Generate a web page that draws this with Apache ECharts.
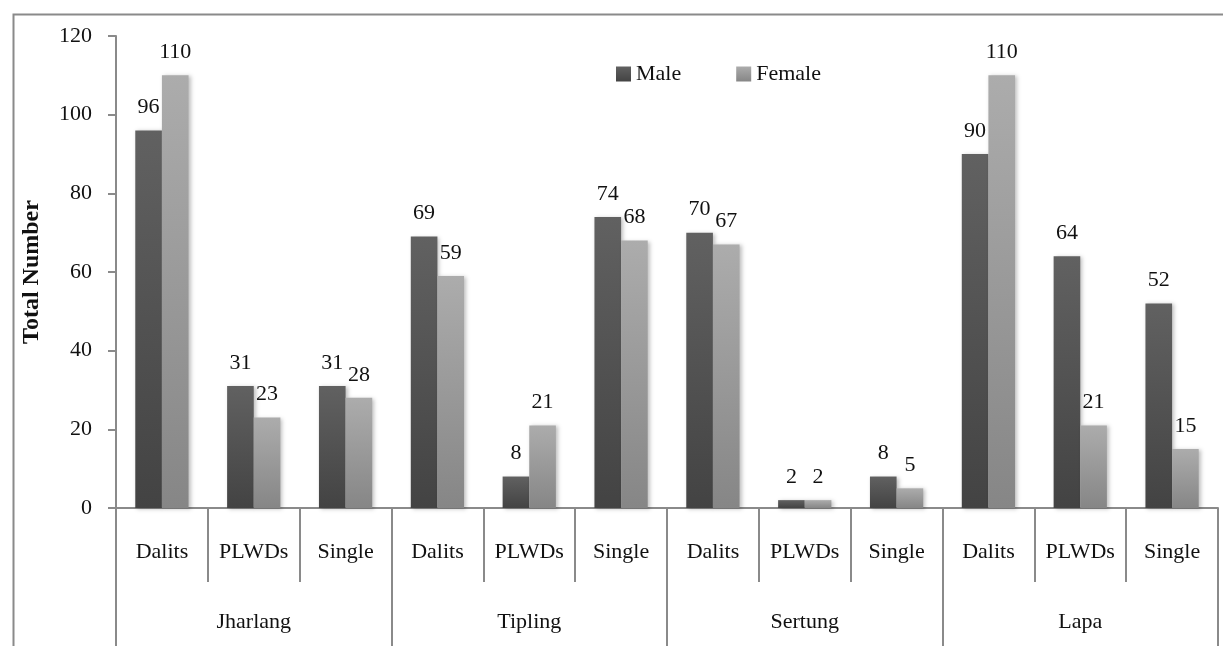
<!DOCTYPE html>
<html>
<head>
<meta charset="utf-8">
<style>
html,body{margin:0;padding:0;background:#fff;}
#chart{width:1223px;height:646px;}
</style>
<script src="https://cdn.jsdelivr.net/npm/echarts@6/dist/echarts.min.js"></script>
</head>
<body>
<div id="chart"></div>
<script>
var subCategories = ['Dalits','PLWDs','Single','Dalits','PLWDs','Single','Dalits','PLWDs','Single','Dalits','PLWDs','Single'];
var groups = ['Jharlang','Tipling','Sertung','Lapa'];
var maleValues = [96,31,31,69,8,74,70,2,8,90,64,52];
var femaleValues = [110,23,28,59,21,68,67,2,5,110,21,15];
var yTicks = {min:0, max:120, interval:20};

var FONT = '"Liberation Serif", "DejaVu Serif", serif';
var chart = echarts.init(document.getElementById('chart'));

function grad(top, bottom){
  return new echarts.graphic.LinearGradient(0,0,0,1,[{offset:0,color:top},{offset:1,color:bottom}]);
}
var labelStyle = {show:true, position:'top', distance:12, fontFamily:FONT, fontSize:22, color:'#111'};

chart.setOption({
  animation:false,
  textStyle:{fontFamily:FONT},
  graphic:[{
    type:'rect', left:11, top:12, shape:{width:1211, height:660},
    style:{fill:'none', stroke:'#8a8a8a', lineWidth:2}, silent:true, z:-1
  }],
  legend:{
    left:611, top:58, itemWidth:15, itemHeight:15, itemGap:55, icon:'rect',
    textStyle:{fontFamily:FONT, fontSize:22, color:'#111'},
    data:['Male','Female']
  },
  grid:{left:116, right:5, top:36, bottom:138, containLabel:false},
  xAxis:[{
    type:'category', data:subCategories, position:'bottom',
    axisLine:{lineStyle:{color:'#8a8a8a', width:2}},
    axisTick:{show:true, length:74, interval:0, lineStyle:{color:'#8a8a8a', width:2}},
    axisLabel:{interval:0, margin:33, fontFamily:FONT, fontSize:22, color:'#111'}
  },{
    type:'category', data:groups, position:'bottom', gridIndex:0,
    axisLine:{show:false},
    axisTick:{show:true, length:140, interval:0, lineStyle:{color:'#8a8a8a', width:2}},
    axisLabel:{interval:0, margin:103, fontFamily:FONT, fontSize:22, color:'#111'}
  }],
  yAxis:{
    type:'value', min:yTicks.min, max:yTicks.max, interval:yTicks.interval,
    name:'Total Number', nameLocation:'middle', nameGap:72,
    nameTextStyle:{fontFamily:FONT, fontSize:24, fontWeight:'bold', color:'#111'},
    axisLine:{show:true, lineStyle:{color:'#8a8a8a', width:2}},
    axisTick:{show:true, length:8, lineStyle:{color:'#8a8a8a', width:2}},
    axisLabel:{margin:24, fontFamily:FONT, fontSize:22, color:'#111'},
    splitLine:{show:false}
  },
  series:[{
    name:'Male', type:'bar', data:maleValues, xAxisIndex:0,
    barGap:'0%', barCategoryGap:'42%',
    itemStyle:{color:grad('#616161','#434343'), shadowBlur:4, shadowOffsetX:2, shadowOffsetY:1, shadowColor:'rgba(0,0,0,0.25)'},
    label:labelStyle
  },{
    name:'Female', type:'bar', data:femaleValues, xAxisIndex:0,
    barGap:'0%', barCategoryGap:'42%',
    itemStyle:{color:grad('#acacac','#868686'), shadowBlur:4, shadowOffsetX:2, shadowOffsetY:1, shadowColor:'rgba(0,0,0,0.25)'},
    label:labelStyle
  }]
});
</script>
</body>
</html>
